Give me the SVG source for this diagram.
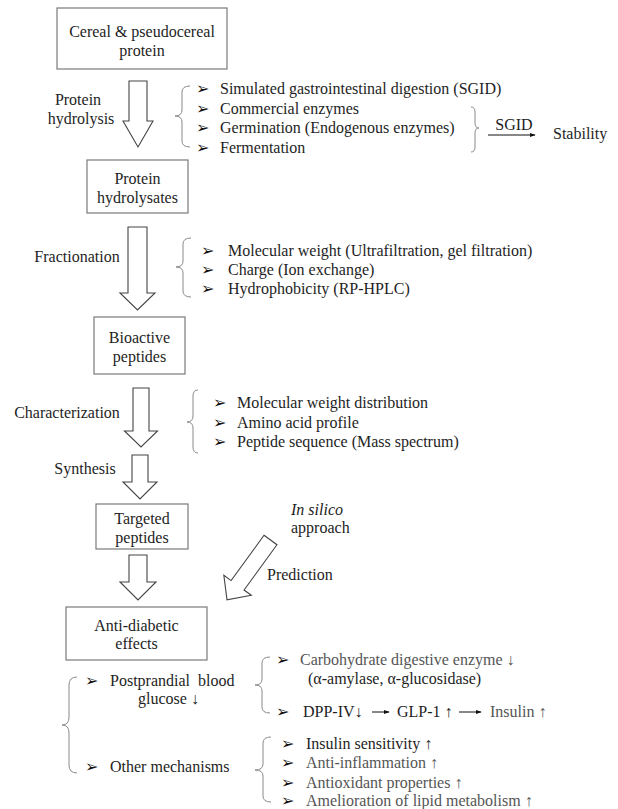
<svg xmlns="http://www.w3.org/2000/svg" width="618" height="809" viewBox="0 0 618 809">
<defs>
<style>
text{font-family:"Liberation Serif","Times New Roman",serif;font-size:16px;fill:#1e1e1e}
.c{text-anchor:middle}
.g{fill:#555}
.b{font-family:"DejaVu Sans",sans-serif;font-size:16px;fill:#111}
.box{fill:#fff;stroke:#7a7a7a;stroke-width:1.2}
.arr{fill:#fff;stroke:#444;stroke-width:1.1;stroke-linejoin:miter}
.br{fill:none;stroke:#8a8a8a;stroke-width:1}
.ln{stroke:#111;stroke-width:1;fill:none}
</style>
<marker id="ah" viewBox="0 0 10 10" refX="9" refY="5" markerWidth="6" markerHeight="6" orient="auto" markerUnits="userSpaceOnUse">
<path d="M0,1.5 L10,5 L0,8.5 Z" fill="#111"/>
</marker>
</defs>

<g id="n-cereal">
<rect class="box" x="57" y="8" width="170" height="61"/>
<text class="c" x="142" y="36.5">Cereal &amp; pseudocereal</text>
<text class="c" x="142" y="55.5">protein</text>
</g>

<g id="n-hydrolysates">
<rect class="box" x="87" y="160" width="101" height="53"/>
<text class="c" x="137.5" y="183.5">Protein</text>
<text class="c" x="137.5" y="202.5">hydrolysates</text>
</g>

<g id="n-bioactive">
<rect class="box" x="94" y="317" width="91" height="57"/>
<text class="c" x="139.5" y="342.5">Bioactive</text>
<text class="c" x="139.5" y="361.5">peptides</text>
</g>

<g id="n-targeted">
<rect class="box" x="96" y="504" width="92" height="45"/>
<text class="c" x="142" y="523.5">Targeted</text>
<text class="c" x="142" y="542.5">peptides</text>
</g>

<g id="n-antidiabetic">
<rect class="box" x="66" y="607" width="141" height="53"/>
<text class="c" x="136.5" y="630.5">Anti-diabetic</text>
<text class="c" x="136.5" y="648.5">effects</text>
</g>

<g id="connectors">
<path class="arr" d="M129,81 H147 V121 H153 L138,147 L123,121 H129 Z"/>
<path class="arr" d="M128,227 H147 V293 H155 L137.5,310 L120,293 H128 Z"/>
<path class="arr" d="M133,388 H149 V431 H157.5 L141,447 L124.5,431 H133 Z"/>
<path class="arr" d="M132,455 H148 V482 H157 L140,499 L123,482 H132 Z"/>
<path class="arr" d="M129,555 H147 V582 H156 L138,600 L120,582 H129 Z"/>
<path class="arr" transform="translate(270.5,540) rotate(36)" d="M-8,0 H8 V56 H17 L0,74 L-17,56 H-8 Z"/>
<line class="ln" x1="488" y1="135" x2="535" y2="135" marker-end="url(#ah)"/>
<line class="ln" x1="372" y1="712" x2="389" y2="712" marker-end="url(#ah)"/>
<line class="ln" x1="459" y1="712" x2="481" y2="712" marker-end="url(#ah)"/>
</g>

<g id="step-labels">
<text class="c" x="78" y="105">Protein</text>
<text class="c" x="81" y="124">hydrolysis</text>
<text class="c" x="77" y="262">Fractionation</text>
<text class="c" x="67" y="418">Characterization</text>
<text class="c" x="85" y="474">Synthesis</text>
<text x="291" y="515" font-style="italic">In silico</text>
<text x="291" y="533">approach</text>
<text x="267" y="580">Prediction</text>
</g>

<g id="list-hydrolysis">
<path class="br" d="M190,86 Q182,86 182,92 V110 Q182,116 175,116 Q182,116 182,122 V141 Q182,147 190,147"/>
<text class="b" x="196" y="94">➢</text>
<text class="b" x="196" y="114">➢</text>
<text class="b" x="196" y="133">➢</text>
<text class="b" x="196" y="153">➢</text>
<text x="220" y="94">Simulated gastrointestinal digestion (SGID)</text>
<text x="220" y="114">Commercial enzymes</text>
<text x="220" y="133">Germination (Endogenous enzymes)</text>
<text x="220" y="153">Fermentation</text>
<path class="br" d="M471,107 Q475,107 475,112 V123 Q475,128 479,128 Q475,128 475,133 V147 Q475,152 471,152"/>
<text class="c" x="514" y="130">SGID</text>
<text x="553" y="139">Stability</text>
</g>

<g id="list-fractionation">
<path class="br" d="M191,238 Q183,238 183,244 V261 Q183,267 176,267 Q183,267 183,273 V291 Q183,297 191,297"/>
<text class="b" x="201" y="255.5">➢</text>
<text class="b" x="201" y="274.5">➢</text>
<text class="b" x="201" y="293.5">➢</text>
<text x="228" y="255.5">Molecular weight (Ultrafiltration, gel filtration)</text>
<text x="228" y="274.5">Charge (Ion exchange)</text>
<text x="228" y="293.5">Hydrophobicity (RP-HPLC)</text>
</g>

<g id="list-characterization">
<path class="br" d="M198,390 Q193,390 193,396 V416 Q193,422 187,422 Q193,422 193,428 V447 Q193,453 198,453"/>
<text class="b" x="213" y="408">➢</text>
<text class="b" x="213" y="428">➢</text>
<text class="b" x="213" y="447">➢</text>
<text x="237" y="408">Molecular weight distribution</text>
<text x="237" y="428">Amino acid profile</text>
<text x="237" y="447">Peptide sequence (Mass spectrum)</text>
</g>

<g id="list-mechanisms">
<path class="br" d="M77,677 Q69,677 69,685 V717 Q69,725 62,725 Q69,725 69,733 V765 Q69,773 77,773"/>
<text class="b" x="85" y="686">➢</text>
<text x="110" y="686" word-spacing="4">Postprandial blood</text>
<text x="138" y="704">glucose ↓</text>
<text class="b" x="85" y="772">➢</text>
<text x="110" y="772">Other mechanisms</text>
</g>

<g id="list-postprandial">
<path class="br" d="M270,657 Q262,657 262,663 V679 Q262,685 255,685 Q262,685 262,691 V707 Q262,713 270,713"/>
<text class="b" x="276" y="665">➢</text>
<text class="g" x="300" y="665">Carbohydrate digestive enzyme ↓</text>
<text x="308" y="684">(α-amylase, α-glucosidase)</text>
<text class="b" x="276" y="717">➢</text>
<text x="303" y="717">DPP-IV↓</text>
<text x="397" y="717">GLP-1 ↑</text>
<text class="g" x="490" y="717">Insulin ↑</text>
</g>

<g id="list-other">
<path class="br" d="M271,737 Q263,737 263,743 V764 Q263,770 255,770 Q263,770 263,776 V796 Q263,802 271,802"/>
<text class="b" x="281" y="749">➢</text>
<text class="b" x="281" y="768">➢</text>
<text class="b" x="281" y="788">➢</text>
<text class="b" x="281" y="806">➢</text>
<text x="306" y="749">Insulin sensitivity ↑</text>
<text class="g" x="306" y="768">Anti-inflammation ↑</text>
<text class="g" x="306" y="788">Antioxidant properties ↑</text>
<text class="g" x="306" y="806">Amelioration of lipid metabolism ↑</text>
</g>
</svg>
